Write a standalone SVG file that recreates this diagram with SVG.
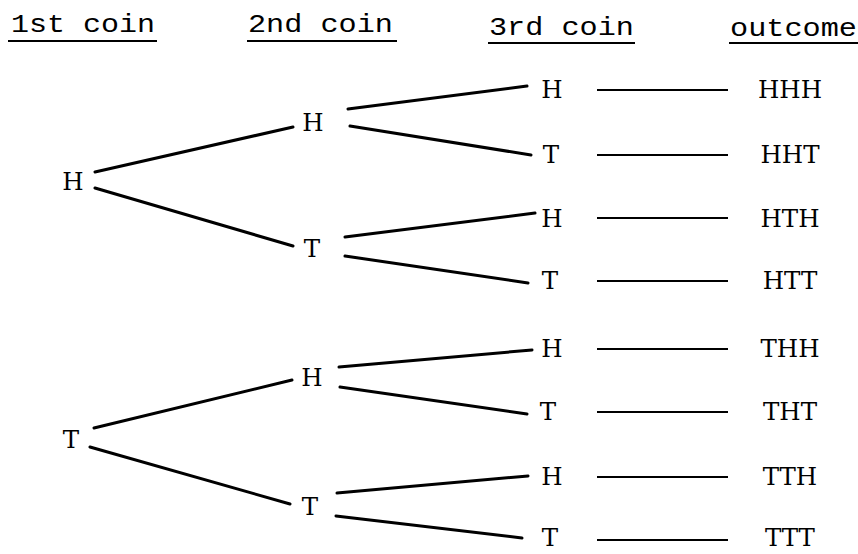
<svg xmlns="http://www.w3.org/2000/svg" width="858" height="554" viewBox="0 0 858 554">
<style>
text { fill: #000; }
.hdr { font-family: "Liberation Mono", "DejaVu Sans Mono", monospace; font-size: 26px; }
.node, .out { font-family: "DejaVu Serif", "Liberation Serif", serif; font-size: 24.5px; text-anchor: middle; }
.ul { stroke: #000; stroke-width: 2; }
.br { stroke: #000; stroke-width: 3; stroke-linecap: round; fill: none; }
.dash { stroke: #000; stroke-width: 2; }
</style>
<rect width="858" height="554" fill="#fff"/>
<g id="headers">
  <text class="hdr" x="11" y="32" textLength="144" lengthAdjust="spacingAndGlyphs">1st coin</text>
  <line class="ul" x1="8" y1="41" x2="157" y2="41"/>
  <text class="hdr" x="248" y="32" textLength="145" lengthAdjust="spacingAndGlyphs">2nd coin</text>
  <line class="ul" x1="247" y1="41" x2="397" y2="41"/>
  <text class="hdr" x="489" y="35" textLength="145" lengthAdjust="spacingAndGlyphs">3rd coin</text>
  <line class="ul" x1="488" y1="43" x2="635" y2="43"/>
  <text class="hdr" x="730" y="36" textLength="127" lengthAdjust="spacingAndGlyphs">outcome</text>
  <line class="ul" x1="729" y1="43" x2="858" y2="43"/>
</g>
<g id="connectors">
  <line class="br" x1="95" y1="172" x2="293" y2="127"/>
  <line class="br" x1="95" y1="188" x2="293" y2="246"/>
  <line class="br" x1="94" y1="428" x2="292" y2="380"/>
  <line class="br" x1="90" y1="447" x2="290" y2="504"/>
  <line class="br" x1="348" y1="109" x2="527" y2="86"/>
  <line class="br" x1="350" y1="126" x2="531" y2="155"/>
  <line class="br" x1="345" y1="237" x2="535" y2="213"/>
  <line class="br" x1="345" y1="256" x2="528" y2="283"/>
  <line class="br" x1="339" y1="367" x2="532" y2="350"/>
  <line class="br" x1="340" y1="387" x2="527" y2="414"/>
  <line class="br" x1="337" y1="493" x2="528" y2="476"/>
  <line class="br" x1="336" y1="516" x2="522" y2="538"/>
  <line class="dash" x1="597" y1="90" x2="728" y2="90"/>
  <line class="dash" x1="597" y1="155" x2="728" y2="155"/>
  <line class="dash" x1="597" y1="218" x2="728" y2="218"/>
  <line class="dash" x1="597" y1="281" x2="728" y2="281"/>
  <line class="dash" x1="597" y1="349" x2="728" y2="349"/>
  <line class="dash" x1="597" y1="412" x2="728" y2="412"/>
  <line class="dash" x1="597" y1="477" x2="728" y2="477"/>
  <line class="dash" x1="597" y1="540" x2="728" y2="540"/>
</g>
<g id="n1H"><text class="node" x="73" y="190">H</text></g>
<g id="n1T"><text class="node" x="71" y="448">T</text></g>
<g id="n2H"><text class="node" x="313" y="131">H</text></g>
<g id="n2T"><text class="node" x="312" y="257">T</text></g>
<g id="n2H2"><text class="node" x="312" y="386">H</text></g>
<g id="n2T2"><text class="node" x="310" y="515">T</text></g>
<g id="n3_1"><text class="node" x="552" y="98">H</text></g>
<g id="n3_2"><text class="node" x="551" y="163">T</text></g>
<g id="n3_3"><text class="node" x="552" y="227">H</text></g>
<g id="n3_4"><text class="node" x="550" y="289">T</text></g>
<g id="n3_5"><text class="node" x="552" y="357">H</text></g>
<g id="n3_6"><text class="node" x="548" y="420">T</text></g>
<g id="n3_7"><text class="node" x="552" y="485">H</text></g>
<g id="n3_8"><text class="node" x="550" y="546">T</text></g>
<g id="o1"><text class="out" x="790" y="98">HHH</text></g>
<g id="o2"><text class="out" x="790" y="163">HHT</text></g>
<g id="o3"><text class="out" x="790" y="227">HTH</text></g>
<g id="o4"><text class="out" x="790" y="289">HTT</text></g>
<g id="o5"><text class="out" x="790" y="357">THH</text></g>
<g id="o6"><text class="out" x="790" y="420">THT</text></g>
<g id="o7"><text class="out" x="790" y="485">TTH</text></g>
<g id="o8"><text class="out" x="790" y="546">TTT</text></g>
</svg>
